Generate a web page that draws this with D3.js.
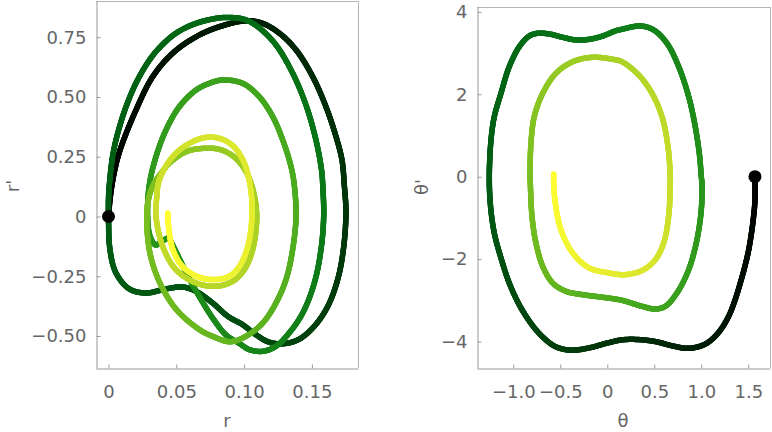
<!DOCTYPE html>
<html>
<head>
<meta charset="utf-8">
<script src="https://cdn.jsdelivr.net/npm/d3@7"></script>
<style>
  body { margin: 0; background: #fff; }
  svg { display: block; }
  .tick text { font-family: "DejaVu Sans", sans-serif; font-size: 18px; fill: #666; }
  .tick line { stroke: #999; }
  .axisLabel { font-family: "DejaVu Sans", sans-serif; font-size: 18px; fill: #666; }
</style>
</head>
<body>
<div id="chart"></div>
<script>
// Data: points as [value, derivative, time fraction]
// left panel, r vs r', one array per radial oscillation
var rLoop1 = [
  [0, 0, 0], [0.0015, 0.090, 0.004], [0.0043, 0.186, 0.010], [0.0085, 0.278, 0.016],
  [0.0203, 0.446, 0.024], [0.0326, 0.585, 0.032], [0.0473, 0.683, 0.040], [0.0645, 0.752, 0.047],
  [0.0817, 0.794, 0.053], [0.1014, 0.819, 0.060], [0.1137, 0.808, 0.065], [0.1260, 0.767, 0.071],
  [0.1383, 0.697, 0.077], [0.1506, 0.585, 0.083], [0.1604, 0.459, 0.089], [0.1678, 0.334, 0.094],
  [0.1722, 0.236, 0.097], [0.1739, 0.132, 0.100], [0.1751, 0.015, 0.104], [0.1732, -0.139, 0.110],
  [0.1690, -0.264, 0.116], [0.1617, -0.376, 0.123], [0.1518, -0.459, 0.130], [0.1407, -0.513, 0.137],
  [0.1296, -0.532, 0.143], [0.1186, -0.526, 0.149], [0.1088, -0.495, 0.155], [0.0990, -0.453, 0.160],
  [0.0881, -0.418, 0.166], [0.0768, -0.362, 0.172], [0.0645, -0.313, 0.178], [0.0547, -0.295, 0.182],
  [0.0424, -0.303, 0.186], [0.0277, -0.320, 0.190], [0.0153, -0.303, 0.193], [0.0055, -0.236, 0.196],
  [0.0011, -0.139, 0.198], [0, 0, 0.200]
];
var rLoop2 = [
  [0.0001, 0.090, 0.203], [0.0006, 0.132, 0.205], [0.0026, 0.236, 0.209], [0.0055, 0.320, 0.212],
  [0.0129, 0.459, 0.218], [0.0227, 0.585, 0.224], [0.0350, 0.690, 0.230], [0.0498, 0.767, 0.236],
  [0.0645, 0.808, 0.242], [0.0793, 0.829, 0.248], [0.0881, 0.833, 0.252], [0.1007, 0.824, 0.258],
  [0.1112, 0.789, 0.264], [0.1235, 0.718, 0.271], [0.1358, 0.600, 0.278], [0.1456, 0.467, 0.285],
  [0.1530, 0.320, 0.292], [0.1571, 0.195, 0.297], [0.1580, 0.132, 0.300], [0.1587, 0.001, 0.304],
  [0.1567, -0.139, 0.310], [0.1518, -0.278, 0.318], [0.1432, -0.404, 0.325], [0.1333, -0.487, 0.332],
  [0.1235, -0.543, 0.339], [0.1137, -0.564, 0.345], [0.1038, -0.557, 0.350], [0.0970, -0.533, 0.354],
  [0.0867, -0.496, 0.359], [0.0778, -0.433, 0.364], [0.0699, -0.363, 0.369], [0.0601, -0.266, 0.376],
  [0.0527, -0.182, 0.382], [0.0466, -0.112, 0.390], [0.0441, -0.091, 0.393], [0.0387, -0.107, 0.396],
  [0.0347, -0.119, 0.399]
];
var rLoop3 = [
  [0.0306, -0.082, 0.403], [0.0288, 0, 0.410], [0.0301, 0.132, 0.418], [0.0350, 0.250, 0.426],
  [0.0424, 0.362, 0.434], [0.0522, 0.459, 0.442], [0.0645, 0.529, 0.450], [0.0743, 0.557, 0.456],
  [0.0842, 0.571, 0.462], [0.0990, 0.557, 0.470], [0.1112, 0.501, 0.478], [0.1211, 0.418, 0.486],
  [0.1285, 0.320, 0.493], [0.1346, 0.209, 0.499], [0.1370, 0.132, 0.503], [0.1383, 0.001, 0.508],
  [0.1358, -0.139, 0.515], [0.1309, -0.264, 0.522], [0.1235, -0.362, 0.529], [0.1137, -0.446, 0.537],
  [0.1014, -0.501, 0.545], [0.0896, -0.524, 0.552], [0.0771, -0.502, 0.558], [0.0675, -0.475, 0.563],
  [0.0503, -0.391, 0.572], [0.0380, -0.279, 0.580], [0.0306, -0.154, 0.588], [0.0282, -0.001, 0.596]
];
var rLoop4 = [
  [0.0299, 0.082, 0.603], [0.0338, 0.140, 0.610], [0.0395, 0.186, 0.618], [0.0448, 0.223, 0.624],
  [0.0572, 0.271, 0.636], [0.0695, 0.285, 0.648], [0.0817, 0.281, 0.660], [0.0918, 0.253, 0.672],
  [0.1007, 0.195, 0.684], [0.1066, 0.111, 0.696], [0.1093, 0.001, 0.708], [0.1063, -0.139, 0.722],
  [0.1001, -0.223, 0.732], [0.0916, -0.271, 0.742], [0.0793, -0.292, 0.752], [0.0645, -0.278, 0.762],
  [0.0498, -0.223, 0.774], [0.0400, -0.125, 0.786], [0.0350, 0.001, 0.798]
];
var rLoop5 = [
  [0.0354, 0.069, 0.806], [0.0375, 0.153, 0.814], [0.0473, 0.250, 0.826], [0.0596, 0.306, 0.838],
  [0.0719, 0.331, 0.850], [0.0817, 0.327, 0.860], [0.0911, 0.299, 0.870], [0.0992, 0.236, 0.880],
  [0.1044, 0.132, 0.892], [0.1058, 0.001, 0.905], [0.1027, -0.125, 0.918], [0.0965, -0.209, 0.930],
  [0.0891, -0.250, 0.940], [0.0771, -0.264, 0.952], [0.0645, -0.249, 0.962], [0.0542, -0.207, 0.972],
  [0.0476, -0.140, 0.982], [0.0448, -0.069, 0.991], [0.0437, 0.015, 1.000]
];

// right panel, theta vs theta', one array per half swing
var thSwing1 = [
  [1.571, 0, 0], [1.571, -0.566, 0.005], [1.557, -0.954, 0.0085], [1.534, -1.367, 0.014],
  [1.504, -1.779, 0.019], [1.465, -2.167, 0.0235], [1.415, -2.580, 0.0286], [1.359, -2.993, 0.0335],
  [1.291, -3.388, 0.0386], [1.188, -3.769, 0.0454], [1.057, -4.044, 0.053], [0.933, -4.146, 0.0595],
  [0.837, -4.165, 0.064], [0.699, -4.109, 0.0707], [0.507, -4.00, 0.079], [0.313, -3.95, 0.087],
  [0.156, -3.96, 0.0937], [-0.006, -4.04, 0.100], [-0.184, -4.15, 0.1094], [-0.379, -4.21, 0.1195],
  [-0.546, -4.13, 0.1287], [-0.687, -3.89, 0.1369], [-0.812, -3.56, 0.1448], [-0.936, -3.11, 0.1536],
  [-1.043, -2.58, 0.1625], [-1.126, -2.01, 0.171], [-1.202, -1.37, 0.1815], [-1.243, -0.69, 0.191],
  [-1.255, 0, 0.200]
];
var thSwing2 = [
  [-1.237, 0.891, 0.2114], [-1.202, 1.456, 0.2197], [-1.131, 2.024, 0.2302], [-1.043, 2.670, 0.2395],
  [-0.936, 3.155, 0.2490], [-0.830, 3.415, 0.2571], [-0.740, 3.481, 0.2633], [-0.617, 3.464, 0.2713],
  [-0.474, 3.383, 0.2800], [-0.333, 3.318, 0.2882], [-0.191, 3.335, 0.2963], [-0.049, 3.415, 0.3042],
  [0.093, 3.544, 0.3123], [0.156, 3.578, 0.3159], [0.351, 3.658, 0.3276], [0.494, 3.561, 0.3368],
  [0.635, 3.238, 0.3468], [0.760, 2.670, 0.3570], [0.866, 1.942, 0.3679], [0.936, 1.214, 0.3773],
  [0.983, 0.485, 0.3870], [1.000, 0, 0.393]
];
var thSwing3 = [
  [1.007, -0.153, 0.403], [1.000, -0.801, 0.408], [0.954, -1.529, 0.4216], [0.866, -2.257, 0.4358],
  [0.741, -2.823, 0.4498], [0.617, -3.146, 0.4612], [0.511, -3.211, 0.4697], [0.369, -3.146, 0.4805],
  [0.156, -3.000, 0.4956], [-0.049, -2.927, 0.5099], [-0.262, -2.864, 0.5254], [-0.439, -2.782, 0.5395],
  [-0.581, -2.580, 0.5522], [-0.687, -2.175, 0.5649], [-0.759, -1.609, 0.5762], [-0.801, -0.961, 0.5864],
  [-0.819, -0.153, 0.595], [-0.822, 0, 0.600]
];
var thSwing4 = [
  [-0.812, 0.811, 0.6103], [-0.777, 1.456, 0.6222], [-0.687, 2.024, 0.6389], [-0.546, 2.510, 0.6566],
  [-0.368, 2.791, 0.6744], [-0.155, 2.898, 0.6933], [0.057, 2.850, 0.7114], [0.156, 2.791, 0.7201],
  [0.334, 2.468, 0.7371], [0.476, 2.024, 0.753], [0.582, 1.456, 0.7687], [0.646, 0.728, 0.7839],
  [0.670, 0, 0.800]
];
var thSwing5 = [
  [0.670, -0.153, 0.803], [0.653, -0.961, 0.8148], [0.600, -1.609, 0.8303], [0.511, -2.015, 0.8462],
  [0.387, -2.257, 0.8628], [0.263, -2.354, 0.877], [0.156, -2.379, 0.8882], [0.021, -2.337, 0.9019],
  [-0.191, -2.216, 0.9239], [-0.368, -1.852, 0.9448], [-0.493, -1.286, 0.9642], [-0.553, -0.638, 0.978],
  [-0.570, -0.153, 0.99], [-0.570, 0.066, 1.000]
];

// tick values and labels
var rTicks = [0, 0.05, 0.1, 0.15];
var rTickLabels = ["0", "0.05", "0.10", "0.15"];
var rDotTicks = [-0.5, -0.25, 0, 0.25, 0.5, 0.75];
var rDotTickLabels = ["\u22120.50", "\u22120.25", "0", "0.25", "0.50", "0.75"];
var thTicks = [-1, -0.5, 0, 0.5, 1, 1.5];
var thTickLabels = ["\u22121.0", "\u22120.5", "0", "0.5", "1.0", "1.5"];
var thDotTicks = [-4, -2, 0, 2, 4];
var thDotTickLabels = ["\u22124", "\u22122", "0", "2", "4"];

// time colours, black -> green -> yellow
var timeStops = [0, 0.1, 0.2, 0.3, 0.4, 0.5, 0.6, 0.7, 0.8, 0.9, 1];
var timeColors = ["#000000", "#00340b", "#005c14", "#0a7818", "#27941c", "#4aab1f",
                  "#7bbf21", "#a6d026", "#c8dd2b", "#e4ec30", "#ffff33"];

var svgWidth = 772;
var svgHeight = 432;

var svg = d3.select("#chart")
  .append("svg")
  .attr("width", svgWidth)
  .attr("height", svgHeight);

var colorScale = d3.scaleLinear()
  .domain(timeStops)
  .range(timeColors)
  .interpolate(d3.interpolateRgb);

// draws one panel
function drawPanel(opts) {
  var xScale = d3.scaleLinear().domain(opts.xDomain).range([opts.left, opts.right]);
  var yScale = d3.scaleLinear().domain(opts.yDomain).range([opts.bottom, opts.top]);

  // frame
  svg.append("line").attr("x1", opts.left).attr("x2", opts.right + 0.5)
    .attr("y1", opts.top + 0.5).attr("y2", opts.top + 0.5).attr("stroke", "#b5b5b5");
  svg.append("line").attr("x1", opts.right + 0.5).attr("x2", opts.right + 0.5)
    .attr("y1", opts.top).attr("y2", opts.bottom).attr("stroke", "#b5b5b5");

  var bottomAxis = d3.axisBottom(xScale)
    .tickValues(opts.xTicks)
    .tickFormat(function(d, i) { return opts.xLabels[i]; })
    .tickSizeInner(-4).tickSizeOuter(0).tickPadding(12);
  var leftAxis = d3.axisLeft(yScale)
    .tickValues(opts.yTicks)
    .tickFormat(function(d, i) { return opts.yLabels[i]; })
    .tickSizeInner(-4).tickSizeOuter(0).tickPadding(10);

  var xg = svg.append("g")
    .attr("transform", "translate(0," + (opts.bottom + 0.5) + ")")
    .call(bottomAxis);
  var yg = svg.append("g")
    .attr("transform", "translate(" + (opts.left + 0.5) + ",0)")
    .call(leftAxis);
  [xg, yg].forEach(function(g) {
    g.select(".domain").attr("stroke", "#999").attr("stroke-width", 1);
    g.attr("font-family", null).attr("font-size", null);
  });
  xg.selectAll(".tick text").attr("y", 12).attr("dy", "0.95em");

  svg.append("text")
    .attr("class", "axisLabel")
    .attr("x", opts.xLabelPos[0]).attr("y", opts.xLabelPos[1])
    .attr("text-anchor", "middle")
    .text(opts.xName);
  svg.append("text")
    .attr("class", "axisLabel")
    .attr("transform", "translate(" + opts.yLabelPos[0] + "," + opts.yLabelPos[1] + ") rotate(-90)")
    .attr("text-anchor", "middle")
    .text(opts.yName);

  // trajectory coloured by time
  var pts = opts.points;
  var line = d3.line()
    .x(function(d) { return xScale(d[0]); })
    .y(function(d) { return yScale(d[1]); })
    .curve(d3.curveCatmullRom.alpha(0.5));
  var guide = svg.append("path").attr("d", line(pts)).attr("fill", "none").attr("stroke", "none");
  var node = guide.node();
  var total = node.getTotalLength();
  var step = 1;
  var samples = [];
  for (var s = 0; s < total; s += step) samples.push({ s: s, p: node.getPointAtLength(s) });
  samples.push({ s: total, p: node.getPointAtLength(total) });

  // arc length at every read point
  var knotS = [];
  var knotT = [];
  var j = 0;
  pts.forEach(function(d) {
    var px = xScale(d[0]), py = yScale(d[1]);
    var best = j, bd = Infinity, found = false;
    for (var k = j; k < samples.length; k++) {
      var dd = Math.hypot(samples[k].p.x - px, samples[k].p.y - py);
      if (dd < bd) { bd = dd; best = k; }
      if (dd < 1.2) found = true;
      if (found && dd > bd + 1) break;
    }
    j = best;
    if (knotS.length && samples[best].s <= knotS[knotS.length - 1]) return;
    knotS.push(samples[best].s);
    knotT.push(d[2]);
  });
  var sToT = d3.scaleLinear().domain(knotS).range(knotT).clamp(true);

  var segs = d3.pairs(samples);
  svg.append("g")
    .selectAll("line")
    .data(segs)
    .enter()
    .append("line")
    .attr("x1", function(d) { return d[0].p.x; })
    .attr("y1", function(d) { return d[0].p.y; })
    .attr("x2", function(d) { return d[1].p.x; })
    .attr("y2", function(d) { return d[1].p.y; })
    .attr("stroke", function(d) { return colorScale(sToT((d[0].s + d[1].s) / 2)); })
    .attr("stroke-width", 5.5)
    .attr("stroke-linecap", "round");

  // start point
  svg.append("circle")
    .attr("cx", xScale(pts[0][0]))
    .attr("cy", yScale(pts[0][1]))
    .attr("r", 6.5)
    .attr("fill", "#000");
}

drawPanel({
  left: 96, right: 358, top: 1, bottom: 368,
  xDomain: [-0.00922, 0.1840], yDomain: [-0.6339, 0.9017],
  xTicks: rTicks, xLabels: rTickLabels,
  yTicks: rDotTicks, yLabels: rDotTickLabels,
  xName: "r", yName: "r'",
  xLabelPos: [227, 427], yLabelPos: [19, 186],
  points: [].concat(rLoop1, rLoop2, rLoop3, rLoop4, rLoop5)
});

drawPanel({
  left: 477, right: 770, top: 7, bottom: 368,
  xDomain: [-1.386, 1.731], yDomain: [-4.643, 4.119],
  xTicks: thTicks, xLabels: thTickLabels,
  yTicks: thDotTicks, yLabels: thDotTickLabels,
  xName: "\u03b8", yName: "\u03b8'",
  xLabelPos: [623, 427], yLabelPos: [428, 187],
  points: [].concat(thSwing1, thSwing2, thSwing3, thSwing4, thSwing5)
});
</script>
</body>
</html>
